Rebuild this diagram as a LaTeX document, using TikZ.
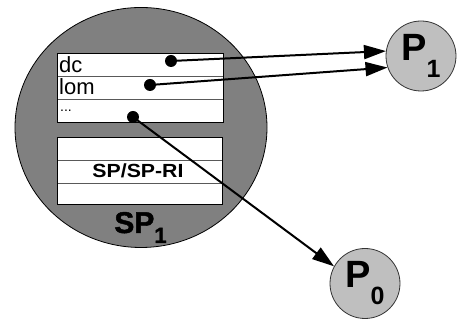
\documentclass[tikz,border=0pt]{standalone}
\usepackage{fontspec}
\usepackage{graphicx}
\setmainfont{Liberation Sans}
\newfontfamily\heavyfont[FakeBold=1.5]{Liberation Sans Bold}
\usetikzlibrary{arrows.meta}

\tikzstyle{every node}=[font=\fontsize{22}{22}\selectfont]

\begin{document}
\begin{tikzpicture}[
            x=1pt, y=1pt,
            frame/.style={draw=black, line width=0.9pt},
            cell/.style={draw=black!65, line width=0.8pt},
            field/.style={anchor=base west, inner sep=0pt},
            dot/.style={circle, fill=black, inner sep=0pt, minimum size=12pt},
            proc/.style={circle, draw=black!80, fill=black!25, line width=0.8pt,
                         minimum size=70pt, inner sep=0pt},
            link/.style={line width=2pt, -{Triangle[length=22pt, width=14pt]}}]
        \useasboundingbox (0,0) rectangle (459,320);

        % the SP_1 body
        \draw[fill=black!50, line width=0.8pt] (141,192.5) ellipse [x radius=126, y radius=120];

        % upper table: dc / lom / ...
        \fill[white] (57,198) rectangle (223,267);
        \draw[cell] (57,244) -- (223,244) (57,221) -- (223,221);
        \draw[frame] (57,198) rectangle (223,267);
        \node[field] (dc)  at (59,247) {dc};
        \node[field] (lom) at (59,225.5) {lom};
        \node[field] (etc) at (60,208) {\fontsize{14}{14}\selectfont ...};

        % lower table with SP/SP-RI
        \fill[white] (57,116) rectangle (222,183);
        \draw[cell] (57,160) -- (222,160) (57,137) -- (222,137);
        \draw[frame] (57,116) rectangle (222,183);
        \node[anchor=base] (spri) at (138,142) {\fontsize{19}{19}\selectfont\bfseries\scalebox{1.12}[1]{SP/SP-RI}};

        \node[anchor=base] (sp) at (140.5,87) {\heavyfont\fontsize{30}{30}\selectfont SP\raisebox{-10pt}{\fontsize{22}{22}\selectfont 1}};

        % pointers
        \node[dot] (dcptr)  at (171,259) {};
        \node[dot] (lomptr) at (150,235) {};
        \node[dot] (etcptr) at (133,203) {};

        % processes
        \node[proc] (p1) at (421,264) {\fontsize{38}{38}\selectfont\bfseries P\raisebox{-17pt}{\fontsize{25}{25}\selectfont 1}};
        \node[proc] (p0) at (365,36.5) {\fontsize{38}{38}\selectfont\bfseries P\raisebox{-17pt}{\fontsize{25}{25}\selectfont 0}};

        \draw[link] (dcptr.center)  -- (p1.172);
        \draw[link] (lomptr.center) -- (p1.199);
        \draw[link] (etcptr.center) -- (p0.151);
    \end{tikzpicture}
\end{document}
